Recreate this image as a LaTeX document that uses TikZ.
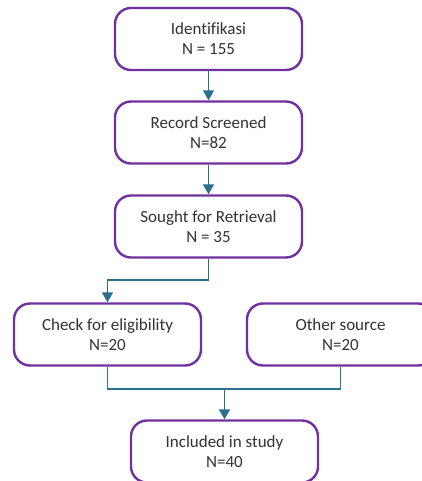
\documentclass[tikz,border=0pt]{standalone}
\usepackage{fontspec}
\setmainfont[Ligatures=NoCommon]{Carlito}
\usepackage{tikz}
\usetikzlibrary{arrows.meta,positioning,calc}
\definecolor{plum}{HTML}{7030A0}
\definecolor{petrol}{HTML}{2A6F8E}
\definecolor{ink}{HTML}{333333}
\tikzset{
  >={Triangle[length=10pt,width=11pt]},
  every node/.style={font=\fontsize{17}{20}\selectfont,text=ink},
  stage/.style={draw=plum,line width=2.4pt,rounded corners=16pt,fill=white,align=center,minimum width=187pt,minimum height=62pt,inner sep=2pt},
  link/.style={draw=petrol,line width=1.6pt},
  arrow/.style={link,->}
}

\begin{document}
\begin{tikzpicture}[x=1pt,y=-1pt]
  \useasboundingbox (0,0) rectangle (422,481);
  \node[stage] (ident) at (208.5,39.0) {Identifikasi\\N = 155};
  \node[stage] (screen) at (208.5,132.5) {Record Screened\\N=82};
  \node[stage] (sought) at (208.5,226.5) {Sought for Retrieval\\N = 35};
  \node[stage] (check) at (107.5,334.5) {Check for eligibility\\N=20};
  \node[stage] (other) at (340.5,334.5) {Other source\\N=20};
  \node[stage] (incl) at (224.5,451.5) {Included in study\\N=40};

  \coordinate (split) at (208.5,280);
  \coordinate (merge) at (224.5,389);

  \draw[arrow] (ident)--(screen);
  \draw[arrow] (screen)--(sought);
  \draw[arrow] (sought.south)--(split)-|(check.north);
  \draw[link] (check.south)|-(merge)-|(other.south);
  \draw[arrow] (merge)--(incl);
\end{tikzpicture}
\end{document}
